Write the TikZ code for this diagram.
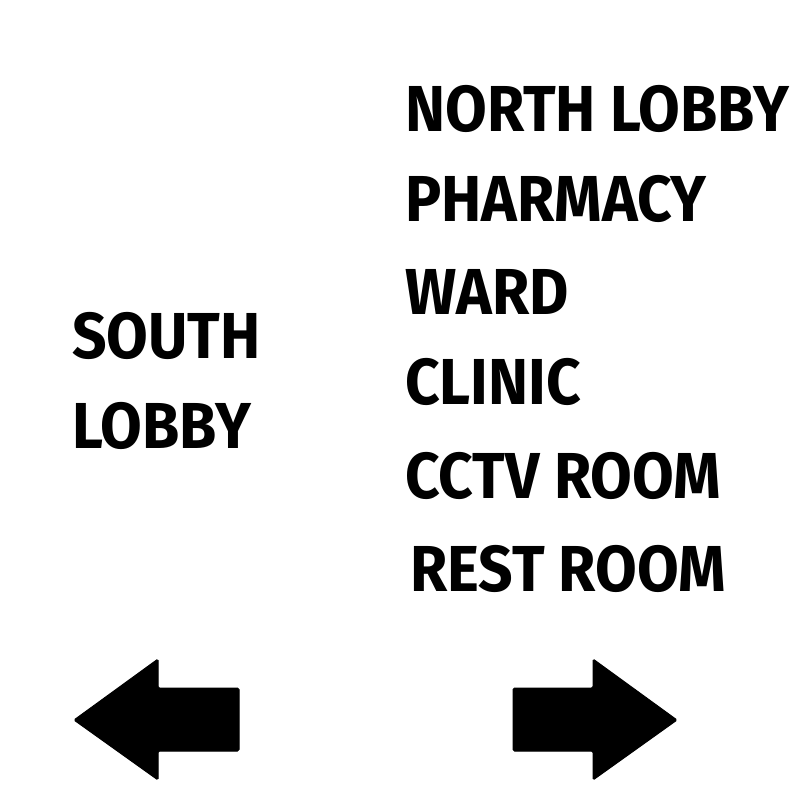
\documentclass[tikz,border=0pt]{standalone}
\usepackage{fontspec}
\setmainfont{Fira Sans}[FakeStretch=0.93]
\begin{document}
\begin{tikzpicture}[x=1pt,y=-1pt,
  signtext/.style={anchor=base west,inner sep=0pt,font=\fontsize{65}{70}\selectfont\bfseries},
  arrowshape/.style={fill=black,draw=black,line width=1pt,rounded corners=1.5pt}]
\useasboundingbox[fill=white] (0,0) rectangle (800,800);
\node[signtext] (n1) at (405,131) {NORTH LOBBY};
\node[signtext] (n2) at (405,221) {PHARMACY};
\node[signtext] (n3) at (405,314) {WARD};
\node[signtext] (n4) at (405,404) {CLINIC};
\node[signtext] (n5) at (405,498) {CCTV ROOM};
\node[signtext] (n6) at (410,591) {REST ROOM};
\node[signtext] (s1) at (72,358) {SOUTH};
\node[signtext] (s2) at (72,448) {LOBBY};
\path[arrowshape] (74,720) -- (158,659) -- (158,688) -- (239,688) -- (239,751) -- (158,751) -- (158,780) -- cycle;
\path[arrowshape] (677,720) -- (593,659) -- (593,688) -- (513,688) -- (513,751) -- (593,751) -- (593,780) -- cycle;
\end{tikzpicture}
\end{document}
